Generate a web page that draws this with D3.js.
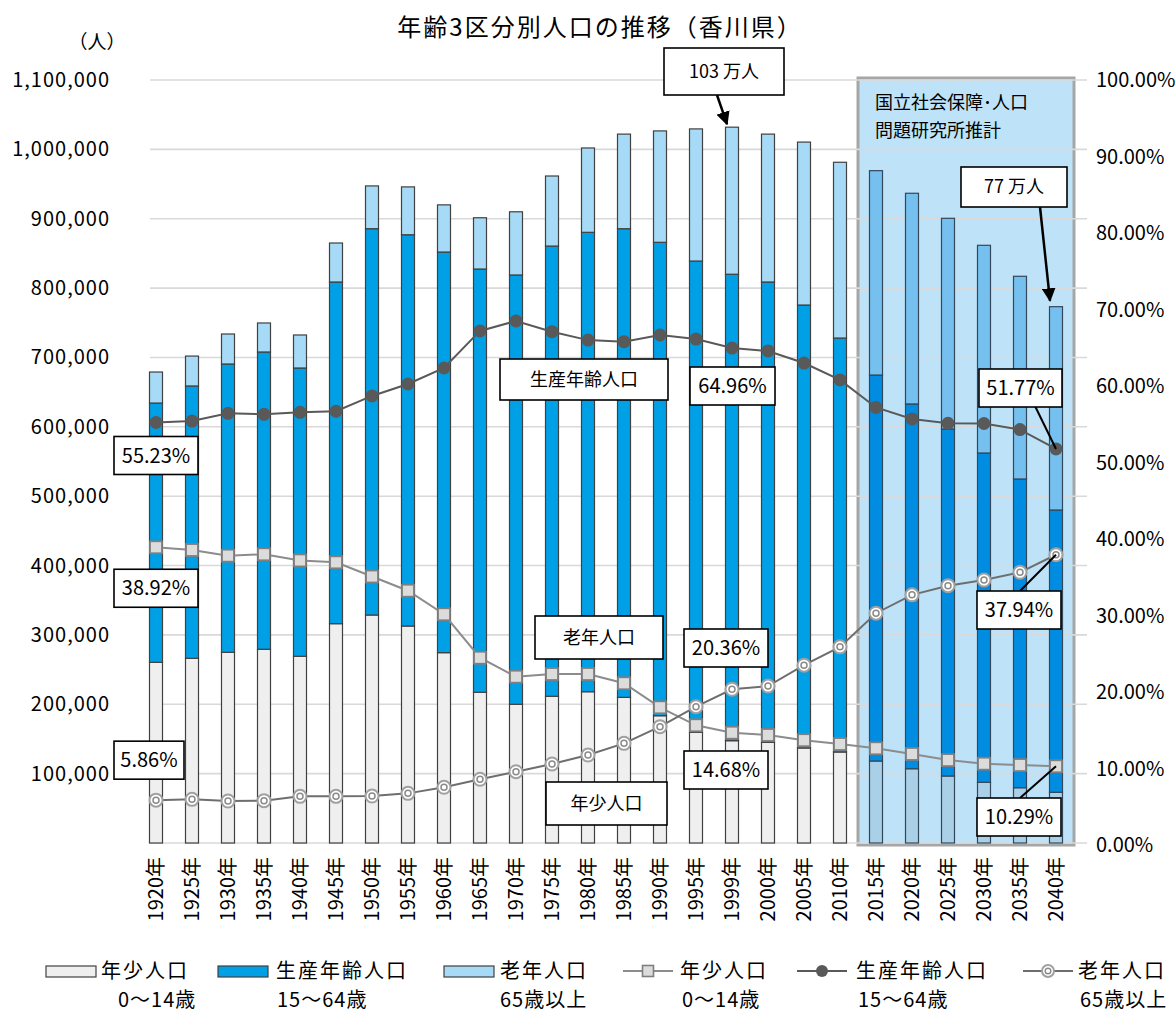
<!DOCTYPE html>
<html>
<head>
<meta charset="utf-8">
<script src="https://cdn.jsdelivr.net/npm/d3@7"></script>
<style>
  body { margin: 0; background: #fff; }
  svg { display: block; }
  text { font-family: "Noto Sans CJK JP", "Noto Sans", sans-serif; fill: #000; }
</style>
</head>
<body>
<div id="chart"></div>
<script>
// 年齢3区分別人口（人）
const years = [1920, 1925, 1930, 1935, 1940, 1945, 1950, 1955, 1960, 1965, 1970, 1975, 1980,
               1985, 1990, 1995, 1999, 2000, 2005, 2010, 2015, 2020, 2025, 2030, 2035, 2040];
const young   = [260500, 266300, 274900, 279300, 269200, 316200, 328700, 312800, 274400, 217300, 200000, 211500, 218100,
                 210000, 183500, 159600, 147500, 145200, 137000, 131200, 118200, 107100, 96600, 87500, 79700, 73100];
const working = [373800, 392600, 415700, 428600, 415600, 492600, 556900, 564100, 577600, 610200, 618900, 649100, 662300,
                 675600, 682500, 679400, 672500, 663600, 638600, 596800, 556500, 525900, 500300, 474800, 445100, 407000];
const elderly = [44700, 43100, 43200, 41800, 47600, 56200, 61700, 69000, 68000, 73900, 91100, 101000, 121600,
                 136400, 160600, 190500, 212000, 213200, 234900, 253400, 294600, 303700, 303700, 299400, 292200, 293100];

// 構成比（%）
const youngRatio   = [38.92, 38.56, 37.82, 38.00, 37.20, 36.95, 35.10, 33.24, 30.16, 24.48, 22.00, 22.35, 22.35,
                      21.14, 18.00, 15.65, 14.68, 14.38, 13.70, 13.20, 12.64, 11.90, 11.10, 10.63, 10.45, 10.29];
const workingRatio = [55.23, 55.42, 56.43, 56.30, 56.56, 56.70, 58.70, 60.26, 62.35, 67.20, 68.50, 67.10, 66.00,
                      65.80, 66.67, 66.14, 64.96, 64.58, 63.00, 60.80, 57.20, 55.70, 55.12, 55.10, 54.30, 51.77];
const elderlyRatio = [5.86, 5.97, 5.75, 5.80, 6.36, 6.36, 6.40, 6.75, 7.54, 8.59, 9.58, 10.59, 11.76,
                      13.29, 15.47, 18.08, 20.36, 20.78, 23.50, 25.90, 30.30, 32.70, 33.90, 34.64, 35.65, 37.94];

const leftTicks = d3.range(100000, 1100001, 100000);
const rightTicks = d3.range(0, 11).map(i => i / 10);
const projectionStart = 2015;

const width = 1176, height = 1014;
const svg = d3.select("#chart").append("svg")
  .attr("width", width).attr("height", height);

const x = d3.scalePoint().domain(years).range([156, 1056]);
const yL = d3.scaleLinear().domain([0, 1100000]).range([843, 80]);
const yR = d3.scaleLinear().domain([0, 100]).range([845, 80]);
const gridX0 = 150, gridX1 = 1087;
const barW = 13;

// title
svg.append("text")
  .attr("x", 600).attr("y", 28).attr("dy", "0.35em")
  .attr("text-anchor", "middle")
  .style("font-size", "24px").style("letter-spacing", "2px")
  .text("年齢3区分別人口の推移（香川県）");

svg.append("text")
  .attr("x", 97).attr("y", 42).attr("dy", "0.35em")
  .attr("text-anchor", "middle")
  .style("font-size", "19px")
  .text("（人）");

// projection panel
const px0 = x(projectionStart) - 18;
svg.append("rect")
  .attr("x", px0).attr("y", 78)
  .attr("width", 1074 - px0).attr("height", 845 - 78)
  .attr("fill", "#BEE3F8")
  .attr("stroke", "#A6A6A6").attr("stroke-width", 3);

svg.append("text")
  .attr("x", px0 + 17).attr("y", 103).attr("dy", "0.35em")
  .style("font-size", "18px")
  .text("国立社会保障･人口");
svg.append("text")
  .attr("x", px0 + 17).attr("y", 131).attr("dy", "0.35em")
  .style("font-size", "18px")
  .text("問題研究所推計");

// gridlines
svg.append("g")
  .selectAll("line")
  .data([0].concat(leftTicks))
  .join("line")
    .attr("x1", gridX0).attr("x2", gridX1)
    .attr("y1", d => yL(d)).attr("y2", d => yL(d))
    .attr("stroke", "#D9D9D9").attr("stroke-width", 1.6);

// left axis labels
svg.append("g")
  .selectAll("text")
  .data(leftTicks)
  .join("text")
    .attr("x", 110).attr("y", d => yL(d)).attr("dy", "0.35em")
    .attr("text-anchor", "end")
    .style("font-size", "20px").style("letter-spacing", "1px")
    .text(d => d3.format(",")(d));

// right axis labels
svg.append("g")
  .selectAll("text")
  .data(rightTicks)
  .join("text")
    .attr("x", 1096).attr("y", d => yR(d * 100)).attr("dy", "0.35em")
    .style("font-size", "20px")
    .text(d => d3.format(".2%")(d));

// category labels
svg.append("g")
  .selectAll("text")
  .data(years)
  .join("text")
    .attr("transform", d => `translate(${x(d)},857) rotate(-90)`)
    .attr("dy", "0.35em")
    .attr("text-anchor", "end")
    .style("font-size", "20px")
    .text(d => `${d}年`);

// stacked bars
const rows = years.map((yr, i) => ({ year: yr, young: young[i], working: working[i], elderly: elderly[i] }));
const keys = ["young", "working", "elderly"];
const stack = d3.stack().keys(keys)(rows);
const colors = {
  past: { young: "#EFEFEF", working: "#00A0E6", elderly: "#A6DAF6" },
  proj: { young: "#A9D0E6", working: "#008CE0", elderly: "#76C0F0" }
};

svg.append("g")
  .selectAll("g")
  .data(stack)
  .join("g")
  .selectAll("rect")
  .data(s => s.map(d => ({ key: s.key, y0: d[0], y1: d[1], year: d.data.year })))
  .join("rect")
    .attr("x", d => x(d.year) - barW / 2)
    .attr("y", d => yL(d.y1))
    .attr("width", barW)
    .attr("height", d => yL(d.y0) - yL(d.y1))
    .attr("fill", d => colors[d.year >= projectionStart ? "proj" : "past"][d.key])
    .attr("stroke", d => d.year >= projectionStart ? "#33475A" : "#404040")
    .attr("stroke-width", 1.2);

// ratio lines
const line = d3.line().x((d, i) => x(years[i])).y(d => yR(d));

svg.append("path").datum(youngRatio)
  .attr("d", line).attr("fill", "none")
  .attr("stroke", "#8C8C8C").attr("stroke-width", 2);
svg.append("path").datum(workingRatio)
  .attr("d", line).attr("fill", "none")
  .attr("stroke", "#595959").attr("stroke-width", 2);
svg.append("path").datum(elderlyRatio)
  .attr("d", line).attr("fill", "none")
  .attr("stroke", "#6E6E6E").attr("stroke-width", 2);

// markers
svg.append("g")
  .selectAll("rect")
  .data(youngRatio)
  .join("rect")
    .attr("x", (d, i) => x(years[i]) - 6).attr("y", d => yR(d) - 6)
    .attr("width", 12).attr("height", 12)
    .attr("fill", "#DCDCDC").attr("stroke", "#7F7F7F").attr("stroke-width", 1.8);

svg.append("g")
  .selectAll("circle")
  .data(workingRatio)
  .join("circle")
    .attr("cx", (d, i) => x(years[i])).attr("cy", d => yR(d))
    .attr("r", 6.5)
    .attr("fill", "#595959");

const elderlyMarks = svg.append("g")
  .selectAll("g")
  .data(elderlyRatio)
  .join("g")
    .attr("transform", (d, i) => `translate(${x(years[i])},${yR(d)})`);
elderlyMarks.append("circle").attr("r", 6.5)
  .attr("fill", "#fff").attr("stroke", "#A0A0A0").attr("stroke-width", 2);
elderlyMarks.append("circle").attr("r", 3)
  .attr("fill", "#fff").attr("stroke", "#8A8A8A").attr("stroke-width", 1.5);

// callout boxes
function box(x0, y0, w, h, label, size) {
  svg.append("rect")
    .attr("x", x0).attr("y", y0).attr("width", w).attr("height", h)
    .attr("fill", "#fff").attr("stroke", "#000").attr("stroke-width", 1.6);
  svg.append("text")
    .attr("x", x0 + w / 2).attr("y", y0 + h / 2).attr("dy", "0.36em")
    .attr("text-anchor", "middle")
    .style("font-size", (size || 20) + "px")
    .text(label);
}

const i1999 = years.indexOf(1999), i2040 = years.indexOf(2040), i1920 = 0;
const total = i => young[i] + working[i] + elderly[i];

// arrow heads
const defs = svg.append("defs");
defs.append("marker")
  .attr("id", "arrow").attr("viewBox", "0 0 10 10")
  .attr("refX", 9).attr("refY", 5)
  .attr("markerWidth", 5.5).attr("markerHeight", 5.5)
  .attr("markerUnits", "strokeWidth")
  .attr("orient", "auto")
  .append("path").attr("d", "M0,0L10,5L0,10Z").attr("fill", "#000");

svg.append("line")
  .attr("x1", 717).attr("y1", 95)
  .attr("x2", x(1999) - 5).attr("y2", yL(total(i1999)) - 3)
  .attr("stroke", "#000").attr("stroke-width", 2.5)
  .attr("marker-end", "url(#arrow)");
svg.append("line")
  .attr("x1", 1040).attr("y1", 207)
  .attr("x2", x(2040) - 6).attr("y2", yL(total(i2040)) - 6)
  .attr("stroke", "#000").attr("stroke-width", 2.5)
  .attr("marker-end", "url(#arrow)");

box(664, 48, 120, 47, "103 万人", 18);
box(961, 167, 106, 40, "77 万人", 18);

// data labels for 1920
box(x(years[i1920]) - 42, yR(workingRatio[i1920]) + 14, 84, 38, d3.format(".2f")(workingRatio[i1920]) + "%");
box(x(years[i1920]) - 42, yR(youngRatio[i1920]) + 22, 84, 38, d3.format(".2f")(youngRatio[i1920]) + "%");
box(x(years[i1920]) - 42, yR(elderlyRatio[i1920]) - 59, 70, 38, d3.format(".2f")(elderlyRatio[i1920]) + "%");

// series name boxes
box(500, 359, 168, 41, "生産年齢人口", 18);
box(535, 616, 128, 43, "老年人口", 18);
box(546, 782, 121, 43, "年少人口", 18);

// 1999 labels
box(690, 367, 85, 38, d3.format(".2f")(workingRatio[i1999]) + "%");
box(684, 629, 84, 38, d3.format(".2f")(elderlyRatio[i1999]) + "%");
box(684, 751, 84, 38, d3.format(".2f")(youngRatio[i1999]) + "%");

// 2040 labels with leader lines
const leader = (x1, y1, v) => svg.append("line")
  .attr("x1", x1).attr("y1", y1)
  .attr("x2", x(2040)).attr("y2", yR(v))
  .attr("stroke", "#000").attr("stroke-width", 2);
leader(1035, 406, workingRatio[i2040]);
leader(1020, 591, elderlyRatio[i2040]);
leader(1020, 798, youngRatio[i2040]);
box(979, 369, 83, 38, d3.format(".2f")(workingRatio[i2040]) + "%");
box(977, 591, 84, 38, d3.format(".2f")(elderlyRatio[i2040]) + "%");
box(977, 798, 84, 38, d3.format(".2f")(youngRatio[i2040]) + "%");

// legend
const legendBars = [
  { key: "young", name: "年少人口", sub: "0～14歳", sx: 46, tx: 101, subx: 118 },
  { key: "working", name: "生産年齢人口", sub: "15～64歳", sx: 218, tx: 276, subx: 277 },
  { key: "elderly", name: "老年人口", sub: "65歳以上", sx: 444, tx: 500, subx: 500 }
];
const lg = svg.append("g");
legendBars.forEach(d => {
  lg.append("rect").attr("x", d.sx).attr("y", 966).attr("width", 50).attr("height", 11)
    .attr("fill", colors.past[d.key]).attr("stroke", "#404040").attr("stroke-width", 1.2);
  lg.append("text").attr("x", d.tx).attr("y", 971).attr("dy", "0.36em")
    .style("font-size", "20px").style("letter-spacing", "2px").text(d.name);
  lg.append("text").attr("x", d.subx).attr("y", 1000).attr("dy", "0.36em")
    .style("font-size", "20px").style("letter-spacing", "1px").text(d.sub);
});

const legendLines = [
  { kind: "square", name: "年少人口", sub: "0～14歳", lx: 623, tx: 680, color: "#8C8C8C" },
  { kind: "dot", name: "生産年齢人口", sub: "15～64歳", lx: 797, tx: 856, color: "#595959" },
  { kind: "ring", name: "老年人口", sub: "65歳以上", lx: 1023, tx: 1078, color: "#6E6E6E" }
];
legendLines.forEach(d => {
  const cx = d.lx + 25;
  lg.append("line").attr("x1", d.lx).attr("x2", d.lx + 50).attr("y1", 971).attr("y2", 971)
    .attr("stroke", d.color).attr("stroke-width", 2);
  if (d.kind === "square") {
    lg.append("rect").attr("x", cx - 5.5).attr("y", 965.5).attr("width", 11).attr("height", 11)
      .attr("fill", "#DCDCDC").attr("stroke", "#7F7F7F").attr("stroke-width", 1.6);
  } else if (d.kind === "dot") {
    lg.append("circle").attr("cx", cx).attr("cy", 971).attr("r", 6).attr("fill", "#595959");
  } else {
    lg.append("circle").attr("cx", cx).attr("cy", 971).attr("r", 6)
      .attr("fill", "#fff").attr("stroke", "#A0A0A0").attr("stroke-width", 2);
    lg.append("circle").attr("cx", cx).attr("cy", 971).attr("r", 2.8)
      .attr("fill", "#fff").attr("stroke", "#8A8A8A").attr("stroke-width", 1.4);
  }
  lg.append("text").attr("x", d.tx).attr("y", 971).attr("dy", "0.36em")
    .style("font-size", "20px").style("letter-spacing", "2px").text(d.name);
  lg.append("text").attr("x", d.tx + 2).attr("y", 1000).attr("dy", "0.36em")
    .style("font-size", "20px").style("letter-spacing", "1px").text(d.sub);
});
</script>
</body>
</html>
